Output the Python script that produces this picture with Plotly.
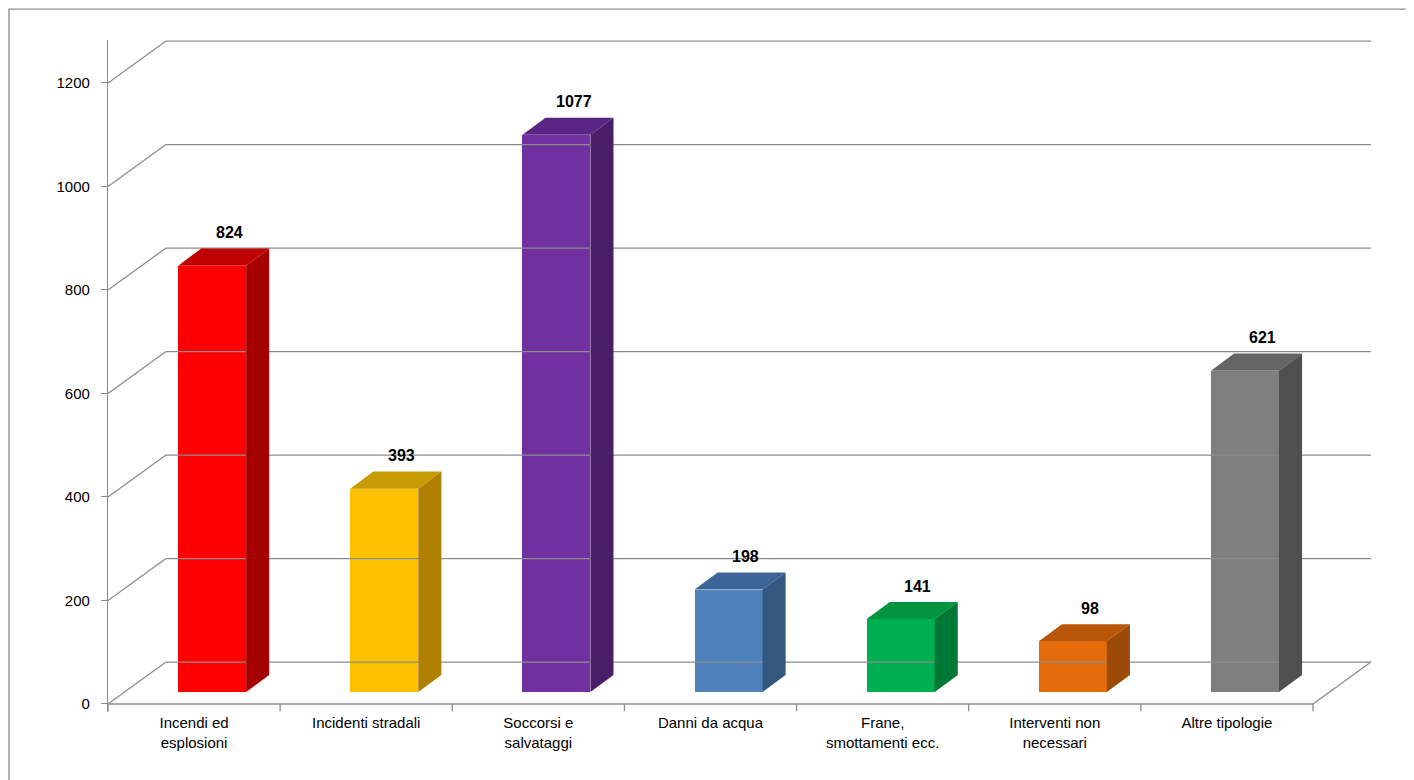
import plotly.graph_objects as go

# === DATA ===
categories = ["Incendi ed<br>esplosioni", "Incidenti stradali", "Soccorsi e<br>salvataggi",
              "Danni da acqua", "Frane,<br>smottamenti ecc.", "Interventi non<br>necessari",
              "Altre tipologie"]
values = [824, 393, 1077, 198, 141, 98, 621]
y_ticks = [0, 200, 400, 600, 800, 1000, 1200]

front_colors = ['#FF0000', '#FFC000', '#7030A0', '#4F81BD', '#00B050', '#E46C0A', '#7F7F7F']
top_colors = ['#C00000', '#C69A00', '#5A2585', '#3C6496', '#00943F', '#B85709', '#656565']
side_colors = ['#A50000', '#AF7F00', '#4A1D66', '#34567F', '#007835', '#9C4A07', '#505050']

# pseudo-3D geometry (x in category units, y in value units)
wall_dx, wall_dy = 0.337, 81     # back wall offset
bar_dx, bar_dy = 0.105, 23       # bar front face offset from front plane
bar_w = 0.395
depth_dx, depth_dy = 0.134, 33   # bar depth
grid_col = '#8C8C8C'
n = len(categories)

fig = go.Figure()
shapes = []

# walls / gridlines
for v in y_ticks:
    shapes.append(dict(type='line', x0=-0.5, y0=v, x1=-0.5 + wall_dx, y1=v + wall_dy,
                       line=dict(color=grid_col, width=1.3)))
    shapes.append(dict(type='line', x0=-0.5 + wall_dx, y0=v + wall_dy, x1=n - 0.5 + wall_dx, y1=v + wall_dy,
                       line=dict(color=grid_col, width=1.3)))
shapes.append(dict(type='line', x0=-0.5, y0=0, x1=n - 0.5, y1=0, line=dict(color=grid_col, width=1.3)))
shapes.append(dict(type='line', x0=n - 0.5, y0=0, x1=n - 0.5 + wall_dx, y1=wall_dy,
                   line=dict(color=grid_col, width=1.3)))
for i in range(n + 1):
    shapes.append(dict(type='line', x0=i - 0.5, y0=0, x1=i - 0.5, y1=-14, line=dict(color=grid_col, width=1.3)))

# bars
xs = [i + bar_dx for i in range(n)]
fig.add_trace(go.Bar(x=xs, y=values, base=bar_dy, width=bar_w,
                     marker=dict(color=front_colors, line=dict(width=0)), showlegend=False, hoverinfo='skip'))
annotations = []
for i, v in enumerate(values):
    xl, xr = xs[i] - bar_w / 2, xs[i] + bar_w / 2
    top = v + bar_dy
    shapes.append(dict(type='path', fillcolor=top_colors[i], line=dict(width=0),
                       path=f"M{xl},{top} L{xr},{top} L{xr + depth_dx},{top + depth_dy} L{xl + depth_dx},{top + depth_dy} Z"))
    shapes.append(dict(type='path', fillcolor=side_colors[i], line=dict(width=0),
                       path=f"M{xr},{bar_dy} L{xr},{top} L{xr + depth_dx},{top + depth_dy} L{xr + depth_dx},{bar_dy + depth_dy} Z"))
    annotations.append(dict(x=xs[i] + 0.1, y=top + depth_dy + 10, text=f"<b>{v}</b>", showarrow=False,
                            yanchor='bottom', font=dict(size=16, color='black')))

# outer border
shapes.append(dict(type='rect', xref='paper', yref='paper', x0=-0.0784, x1=1.0388, y0=-0.110, y1=1.046,
                   line=dict(color='#8C8C8C', width=1.3)))

fig.update_layout(
    width=1414, height=780,
    margin=dict(l=100, r=51, t=32, b=76, autoexpand=False),
    plot_bgcolor='white', paper_bgcolor='white',
    font=dict(family='Liberation Sans', size=15, color='black'),
    xaxis=dict(range=[-0.5, n - 0.5 + wall_dx], tickvals=list(range(n)), ticktext=categories,
               showgrid=False, zeroline=False, showline=False, ticks='', automargin=False),
    yaxis=dict(range=[-15.5, 1283], tickvals=y_ticks, showgrid=False, zeroline=False,
               showline=True, linecolor=grid_col, linewidth=1.3, ticks='outside', ticklen=6,
               tickcolor=grid_col, ticklabelstandoff=8, automargin=False),
    shapes=shapes, annotations=annotations, bargap=0,
)

fig.write_html("out.html")
